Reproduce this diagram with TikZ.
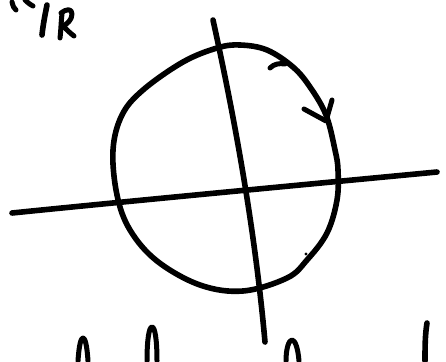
\documentclass[tikz,border=0pt]{standalone}
\begin{document}
\begin{tikzpicture}[x=1pt,y=-1pt,
  ink/.style={line width=5.6pt,line cap=round,line join=round,black},
  thinink/.style={line width=5pt,line cap=round,line join=round,black}]
\useasboundingbox[fill=white] (0,0) rectangle (446,361);
% circle
\draw[ink] plot[smooth cycle,tension=0.6] coordinates {
 (240,45) (267,50) (293,67) (310,87) (326,115) (335,150) (338,170) (337,200)
 (327,233) (307,260) (287,278) (243,291) (200,285) (157,261) (130,230)
 (117,195) (113,150) (122,115) (143,90) (183,62) (217,48)};
% axes
\coordinate (hl) at (12,213);
\coordinate (hr) at (437,172);
\draw[ink] (hl) .. controls (120,202) and (300,185) .. (hr);
\coordinate (vt) at (213,20);
\coordinate (vb) at (265,342);
\draw[ink] (vt) .. controls (235,120) and (255,230) .. (vb);
% arrow marks on circle
\draw[thinink] (270,68) .. controls (274,64) and (279,63) .. (285,64);
\draw[thinink] (304,109) -- (326,121) -- (332,100);
% dot
\fill (306,254) circle (1.6pt);
% top-left handwriting fragment
\draw[thinink] (12,2) .. controls (13,6) and (14,9) .. (16,10);
\draw[thinink] (25,0) .. controls (28,3) and (31,5) .. (33,6);
\draw[ink] (47,5) .. controls (45,15) and (43,25) .. (42,35);
\draw[thinink] (62,14) .. controls (61,22) and (61,30) .. (60,38);
\draw[thinink] (61,13) .. controls (66,9) and (72,8) .. (72,14) .. controls (72,20) and (67,24) .. (63,26) .. controls (67,30) and (70,33) .. (74,36);
% bottom fragments
\draw[thinink] (78,361) .. controls (79,345) and (81,338) .. (83,338) .. controls (85,338) and (87,345) .. (88,361);
\draw[thinink] (147,361) .. controls (147,340) and (149,327) .. (152,327) .. controls (155,327) and (157,340) .. (157,361);
\draw[thinink] (286,361) .. controls (286,348) and (289,340) .. (292,340) .. controls (295,340) and (298,348) .. (299,361);
\draw[ink] (427,323) .. controls (425,335) and (425,348) .. (425,361);
\end{tikzpicture}
\end{document}
